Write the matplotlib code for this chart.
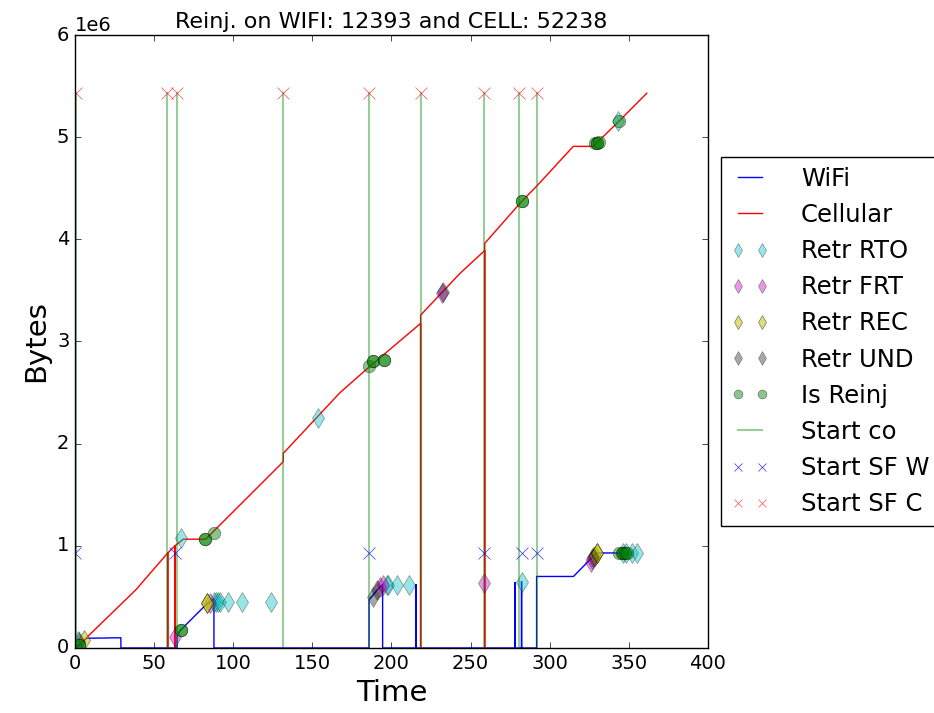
import matplotlib
matplotlib.use("Agg")
import matplotlib.pyplot as plt

plt.style.use("classic")

# WiFi subflow sequence (time in s, bytes in 1e6)
wifi_t = [0, 3, 7.4, 29, 29, 64.5, 64.5, 66.8, 83.2, 87.8, 87.8, 185.8, 185.8, 188.5, 191, 194.4,
          194.4, 215.5, 215.5, 215.5, 278, 278, 278, 282.2, 282.2, 282.2, 291.7, 291.7, 315, 329.6, 349]
wifi_b = [0, 0.03, 0.095, 0.1, 0, 0, 0.12, 0.176, 0.43, 0.48, 0, 0, 0.47, 0.52, 0.57, 0.62,
          0, 0, 0.62, 0, 0, 0.64, 0, 0, 0.65, 0, 0, 0.70, 0.70, 0.93, 0.93]

# Cellular subflow sequence
cell_t = [0, 5.9, 38.5, 58.6, 58.6, 58.6, 63.2, 63.2, 63.2, 68.4, 82.6, 131.6, 131.6, 167.5, 186,
          218.4, 218.4, 218.4, 243.3, 258.9, 258.9, 258.9, 282.2, 291.7, 314.9, 327.5, 344, 361.3]
cell_b = [0, 0.08, 0.57, 0.93, 0, 0.93, 1.0, 0, 1.0, 1.065, 1.065, 1.823, 1.905, 2.5, 2.752,
          3.177, 0, 3.258, 3.667, 3.89, 0, 3.96, 4.37, 4.52, 4.91, 4.91, 5.16, 5.43]

rto_t = [2, 66.8, 87.8, 89, 90.5, 91.6, 96.9, 105.7, 123.9, 153.8, 197, 198, 203.2, 211,
         282.2, 343, 346, 348, 351.8, 354.9]
rto_b = [0.07, 1.08, 0.453, 0.453, 0.453, 0.453, 0.453, 0.453, 0.453, 2.247, 0.616, 0.616, 0.616, 0.616,
         0.65, 5.16, 0.93, 0.93, 0.93, 0.93]

frt_t = [63.2, 85.3, 193, 194.4, 232.1, 258.6, 325.8, 327]
frt_b = [0.11, 0.44, 0.6, 0.616, 3.47, 0.64, 0.845, 0.87]

rec_t = [5.9, 83.2, 83.5, 328.5, 329.6, 330]
rec_b = [0.08, 0.44, 0.445, 0.9, 0.927, 0.93]

und_t = [2.5, 188.5, 190.6, 232.5, 327.5]
und_b = [0.06, 0.50, 0.565, 3.48, 0.89]

reinj_t = [2.7, 2.7, 66.8, 66.8, 82.1, 82.1, 88, 186, 188.5, 188.5, 195.3, 195.3, 282.2, 282.2,
           328.5, 329.6, 329.6, 331, 344, 344, 345.5, 346.5, 347.5, 349]
reinj_b = [0.03, 0.03, 0.176, 0.176, 1.064, 1.064, 1.13, 2.76, 2.81, 2.81, 2.82, 2.82, 4.377, 4.377,
           4.94, 4.944, 4.944, 4.95, 5.16, 0.93, 0.93, 0.93, 0.93, 0.93]

start_co = [0, 0.3, 0.6, 58.3, 64.3, 131.6, 185.8, 218.4, 258.6, 280.8, 291.7]
start_sf_wifi = [0.3, 63.5, 185.8, 258.6, 282.2, 291.7]
start_sf_cell = [0.5, 58.3, 64.3, 131.6, 185.8, 218.4, 258.6, 280.8, 291.7]

M = 1e6
wifi_max = max(wifi_b) * M
cell_max = max(cell_b) * M

fig = plt.figure(figsize=(9.34, 7.13), dpi=100, facecolor="white")
ax = fig.add_axes([0.0803, 0.0912, 0.6777, 0.8597])

ax.plot(wifi_t, [b * M for b in wifi_b], "b-", label="WiFi")
ax.plot(cell_t, [b * M for b in cell_b], "r-", label="Cellular")
ax.plot(rto_t, [b * M for b in rto_b], "cd", alpha=0.4, markersize=10, label="Retr RTO")
ax.plot(frt_t, [b * M for b in frt_b], "md", alpha=0.4, markersize=10, label="Retr FRT")
ax.plot(rec_t, [b * M for b in rec_b], "yd", alpha=0.5, markersize=10, label="Retr REC")
ax.plot(und_t, [b * M for b in und_b], "kd", alpha=0.35, markersize=10, label="Retr UND")
ax.plot(reinj_t, [b * M for b in reinj_b], "go", alpha=0.45, markersize=9, label="Is Reinj")

for i, t in enumerate(start_co):
    ax.plot([t, t], [0, cell_max], "g-", alpha=0.4, lw=1.5,
            label="Start co" if i == 0 else None)

# legend labels are cut at the figure edge in the original, keep the visible part
ax.plot(start_sf_wifi, [wifi_max] * len(start_sf_wifi), "bx", alpha=0.8, markersize=9,
        label="Start SF W")
ax.plot(start_sf_cell, [cell_max] * len(start_sf_cell), "rx", alpha=0.7, markersize=9,
        label="Start SF C")

ax.set_xlim(0, 400)
ax.set_ylim(0, 6e6)
ax.ticklabel_format(axis="y", style="sci", scilimits=(0, 0))
ax.tick_params(labelsize=14)
ax.yaxis.get_offset_text().set_fontsize(14)
ax.set_xlabel("Time", fontsize=21)
ax.set_ylabel("Bytes", fontsize=21)
ax.set_title("Reinj. on WIFI: 12393 and CELL: 52238", fontsize=16)

ax.legend(loc="center left", bbox_to_anchor=(1.02, 0.5), borderaxespad=0,
          fontsize=17.5, numpoints=2, handlelength=1.6, handletextpad=1.3,
          markerscale=0.7)

fig.savefig("out.png", dpi=100, facecolor="white")
